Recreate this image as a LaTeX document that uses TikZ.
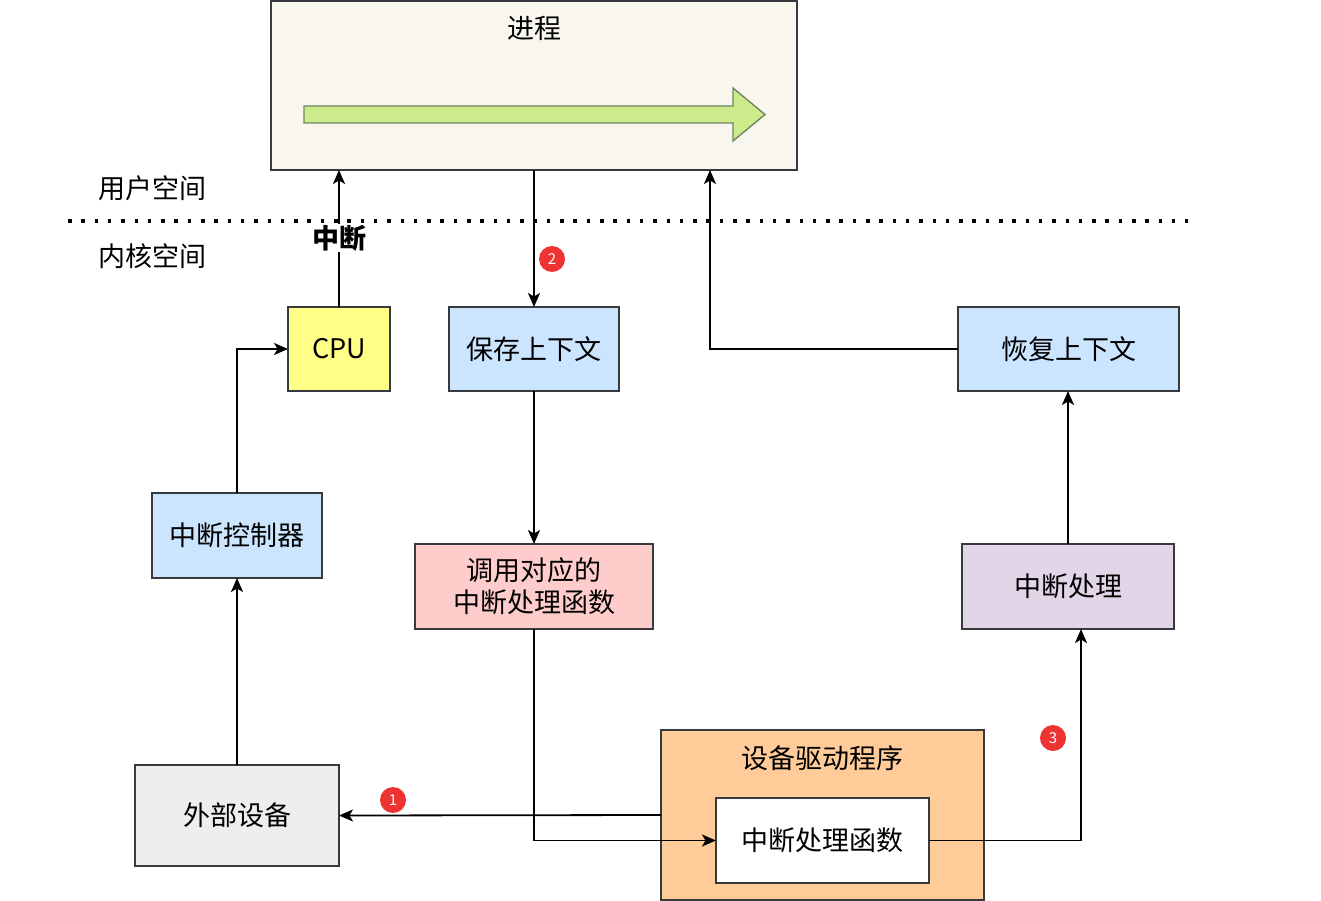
\documentclass[tikz,border=0pt]{standalone}
\usepackage{fontspec}
\setmainfont{Noto Sans CJK SC}
\usetikzlibrary{arrows.meta}
\definecolor{procfill}{HTML}{F9F7ED}
\definecolor{edge}{HTML}{36393D}
\definecolor{yel}{HTML}{FFFF88}
\definecolor{blu}{HTML}{CCE5FF}
\definecolor{pnk}{HTML}{FFCCCC}
\definecolor{prp}{HTML}{E1D5E7}
\definecolor{org}{HTML}{FFCC99}
\definecolor{gry}{HTML}{EEEEEE}
\definecolor{grn}{HTML}{CDEB8B}
\definecolor{grnedge}{HTML}{6D8764}
\definecolor{badge}{HTML}{EE3333}
\tikzset{
  box/.style={draw=edge, line width=1.8pt, inner sep=0pt, outer sep=0pt, font=\fontsize{27}{32}\selectfont, align=center},
  arr/.style={line width=1.8pt, -{Stealth[length=14pt,width=12pt,inset=3.5pt]}},
  lbl/.style={font=\fontsize{27}{32}\selectfont},
  bdg/.style={circle, fill=badge, text=white, inner sep=0pt, minimum size=26pt, font=\fontsize{15}{15}\selectfont}
}
\begin{document}
\begin{tikzpicture}[x=1pt,y=-1pt]
\useasboundingbox (0,0) rectangle (1321,901);
% process
\node[box, fill=procfill, minimum width=526pt, minimum height=169pt] (proc) at (534,85.5) {};
\node[lbl] (proct) at (534,28) {进程};
\filldraw[fill=grn, draw=grnedge, line width=1.4pt] (304,106) -- (733,106) -- (733,88) -- (765,114.5) -- (733,141) -- (733,123) -- (304,123) -- cycle;
% space labels
\node[lbl] (user) at (152,188) {用户空间};
\node[lbl] (kern) at (152,256) {内核空间};
\draw[line width=3.5pt, dash pattern=on 3.5pt off 9.8pt] (68,221) -- (1188,221);
% boxes
\node[box, fill=yel, minimum width=102pt, minimum height=84pt] (cpu) at (339,349) {CPU};
\node[box, fill=blu, minimum width=170pt, minimum height=84pt] (save) at (534,349) {保存上下文};
\node[box, fill=blu, minimum width=221pt, minimum height=84pt] (restore) at (1068.5,349) {恢复上下文};
\node[box, fill=blu, minimum width=170pt, minimum height=85pt] (ctrl) at (237,535.5) {中断控制器};
\node[box, fill=pnk, minimum width=238pt, minimum height=85pt] (call) at (534,586.5) {调用对应的\\中断处理函数};
\node[box, fill=prp, minimum width=212pt, minimum height=85pt] (handle) at (1068,586.5) {中断处理};
\node[box, fill=org, minimum width=323pt, minimum height=170pt] (driver) at (822.5,815) {};
\node[lbl] (drivert) at (822.5,758) {设备驱动程序};
\node[box, fill=white, minimum width=213pt, minimum height=85pt] (func) at (822.5,840.5) {中断处理函数};
\node[box, fill=gry, minimum width=204pt, minimum height=101pt] (ext) at (237,815.5) {外部设备};
% connectors
\draw[arr] (cpu.north) -- (cpu.north |- proc.south);
\node[font=\fontsize{27}{32}\selectfont\bfseries, fill=white, inner sep=1pt] (irq) at (339,238) {中断};
\draw[arr] (proc.south) -- (save.north);
\coordinate (rt) at (710,170);
\draw[arr] (restore.west) -| (rt);
\draw[arr] (ctrl.north) |- (cpu.west);
\draw[arr] (save.south) -- (call.north);
\draw[arr] (handle.north) -- (handle.north |- restore.south);
\draw[arr] (ext.north) -- (ctrl.south);
\draw[arr] (driver.west) -- (ext.east);
\draw[arr] (call.south) |- (func.west);
\coordinate (hs) at (1081,629);
\draw[arr] (func.east) -| (hs);
% badges
\node[bdg] (b1) at (393,800) {1};
\node[bdg] (b2) at (552,259) {2};
\node[bdg] (b3) at (1053,738) {3};
\end{tikzpicture}
\end{document}
